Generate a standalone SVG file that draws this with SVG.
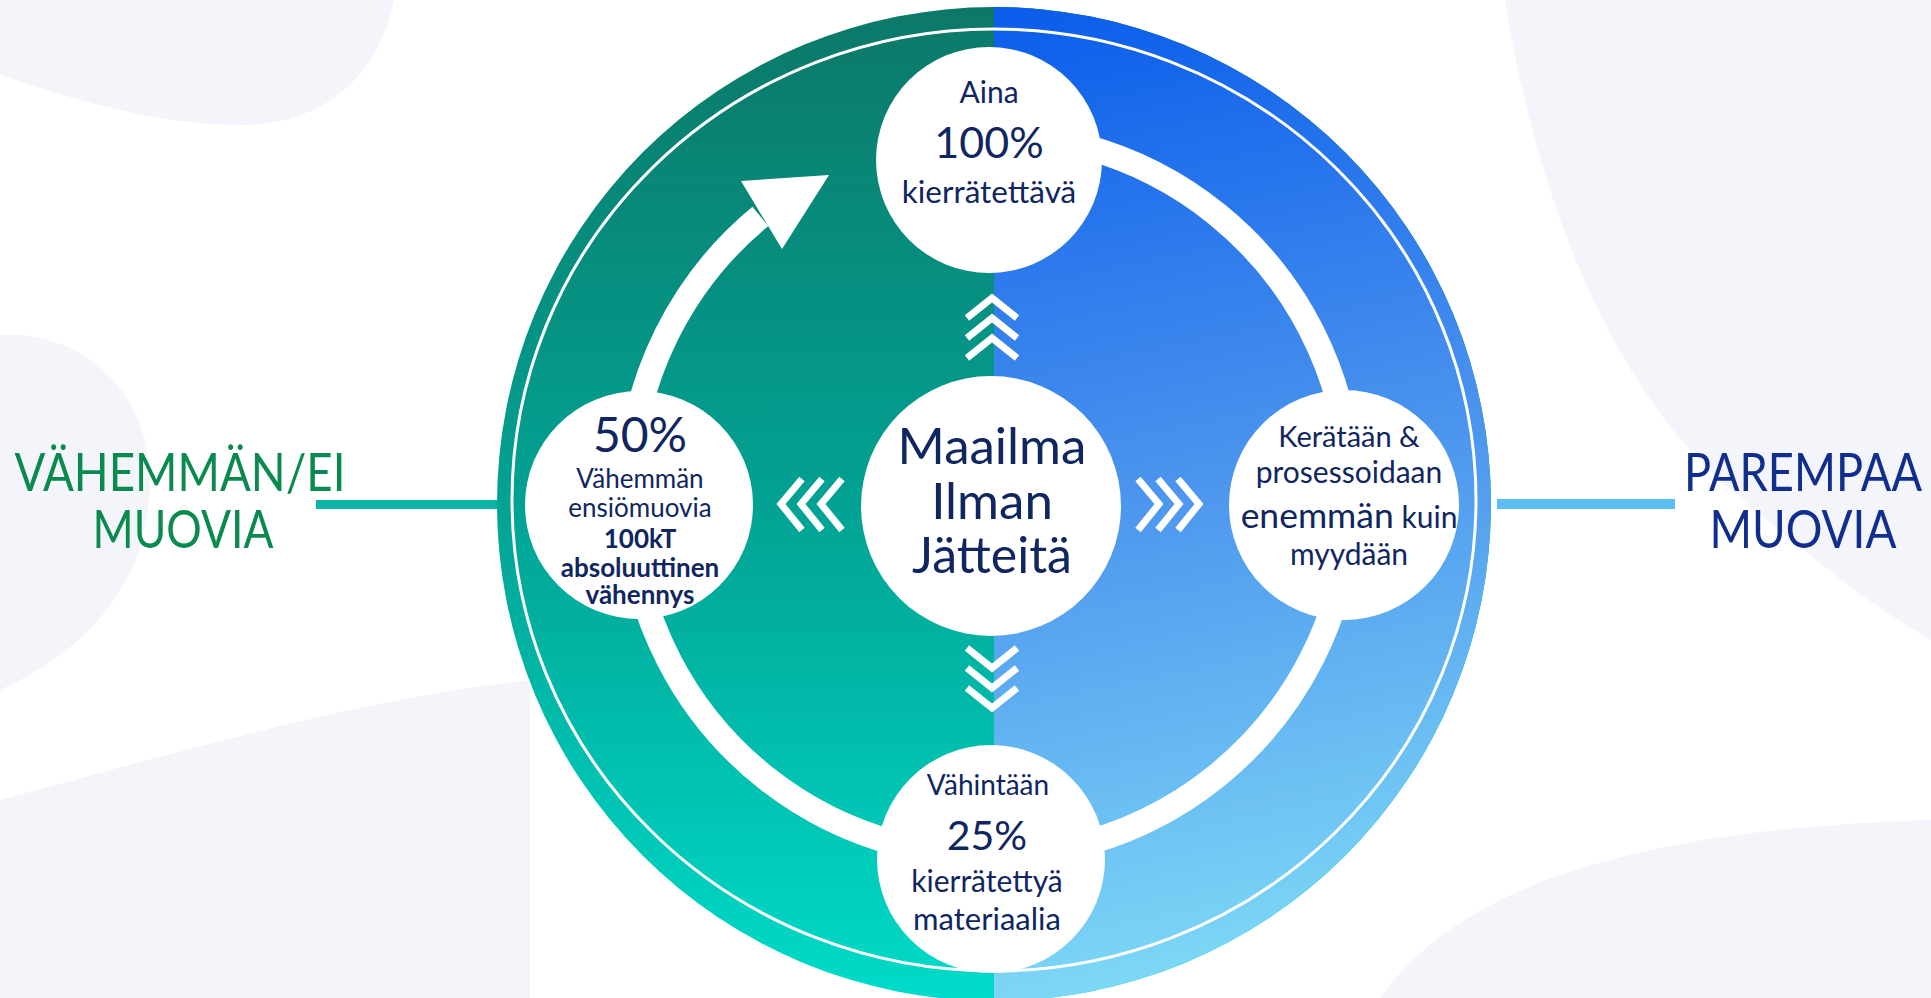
<svg xmlns="http://www.w3.org/2000/svg" width="1931" height="998" viewBox="0 0 1931 998">
<defs>
<linearGradient id="gL" x1="0" y1="8" x2="0" y2="1000" gradientUnits="userSpaceOnUse">
<stop offset="0" stop-color="#0C7868"/>
<stop offset="0.5" stop-color="#02A293"/>
<stop offset="1" stop-color="#00DBC9"/>
</linearGradient>
<linearGradient id="gR" x1="994" y1="8" x2="1200" y2="1000" gradientUnits="userSpaceOnUse">
<stop offset="0" stop-color="#0A5CEB"/>
<stop offset="0.5" stop-color="#4C95EE"/>
<stop offset="1" stop-color="#80DCF6"/>
</linearGradient>
<style>
.bg{fill:#F3F5FA}
.node{fill:#FFFFFF}
.t{font-family:Lato,"Open Sans","Liberation Sans",sans-serif;fill:#0F2660;text-anchor:middle}
.b{font-weight:bold}
.side{font-family:Lato,"Open Sans","Liberation Sans",sans-serif;text-anchor:middle;font-size:53px}
.chev{fill:none;stroke:#FFFFFF;stroke-width:7;stroke-linecap:butt;stroke-linejoin:miter}
</style>
</defs>
<rect width="1931" height="998" fill="#FFFFFF"/>
<g id="background">
<path class="bg" d="M0,0 H394 C380,70 330,125 240,125 C150,125 60,95 0,75 Z"/>
<path class="bg" d="M0,335 C90,330 150,400 150,480 C150,560 110,640 0,690 Z"/>
<path class="bg" d="M0,998 L0,800 C150,760 350,700 530,680 L530,998 Z"/>
<path class="bg" d="M1505,0 H1931 V640 C1860,600 1790,540 1720,480 C1620,390 1540,220 1505,0 Z"/>
<path class="bg" d="M1380,998 C1450,900 1600,830 1931,820 V998 Z"/>
</g>
<g id="disc">
<circle cx="994" cy="504" r="497" fill="url(#gL)"/>
<path d="M994,7 A497,497 0 0 1 994,1001 Z" fill="url(#gR)"/>
<ellipse cx="994" cy="500" rx="482" ry="471" fill="none" stroke="#FFFFFF" stroke-width="3"/>
</g>
<g id="connectors">
<rect x="316" y="500" width="181" height="9" fill="#0BB5A5"/>
<rect x="1497" y="499" width="178" height="10" fill="#5BBFF2"/>
<path d="M760.4,216.4 A361,361 0 1 0 1083.4,146.3" fill="none" stroke="#FFFFFF" stroke-width="25"/>
<polygon points="741,181 829,175 782,249" fill="#FFFFFF"/>
<polyline class="chev" points="967,318 992,298 1017,318"/>
<polyline class="chev" points="967,338 992,318 1017,338"/>
<polyline class="chev" points="967,358 992,338 1017,358"/>
<polyline class="chev" points="967,648 992,668 1017,648"/>
<polyline class="chev" points="967,668 992,688 1017,668"/>
<polyline class="chev" points="967,688 992,708 1017,688"/>
<polyline class="chev" points="802,479 781,504 802,530"/>
<polyline class="chev" points="822,479 801,504 822,530"/>
<polyline class="chev" points="842,479 821,504 842,530"/>
<polyline class="chev" points="1138,479 1159,504 1138,530"/>
<polyline class="chev" points="1158,479 1179,504 1158,530"/>
<polyline class="chev" points="1178,479 1199,504 1178,530"/>
</g>
<g id="node-top">
<circle class="node" cx="989" cy="160" r="113"/>
<text class="t" x="989" y="103" font-size="30">Aina</text>
<text class="t" x="989" y="158" font-size="43">100%</text>
<text class="t" x="989" y="203" font-size="31.5">kierrätettävä</text>
</g>
<g id="node-left">
<circle class="node" cx="639" cy="505" r="114"/>
<text class="t" x="640" y="452" font-size="48">50%</text>
<text class="t" x="640" y="488" font-size="26">Vähemmän</text>
<text class="t" x="640" y="517" font-size="26">ensiömuovia</text>
<text class="t b" x="640" y="548" font-size="26">100kT</text>
<text class="t b" x="640" y="577" font-size="26">absoluuttinen</text>
<text class="t b" x="640" y="604" font-size="26">vähennys</text>
</g>
<g id="node-right">
<circle class="node" cx="1344" cy="505" r="115"/>
<text class="t" x="1349" y="447" font-size="29">Kerätään &amp;</text>
<text class="t" x="1349" y="483" font-size="30">prosessoidaan</text>
<text class="t" x="1349" y="528"><tspan font-size="35.5">enemmän</tspan><tspan font-size="30"> kuin</tspan></text>
<text class="t" x="1349" y="565" font-size="30">myydään</text>
</g>
<g id="node-bottom">
<circle class="node" cx="991" cy="859" r="114"/>
<text class="t" x="988" y="795" font-size="28">Vähintään</text>
<text class="t" x="987" y="850" font-size="41">25%</text>
<text class="t" x="987" y="892" font-size="30">kierrätettyä</text>
<text class="t" x="987" y="930" font-size="31">materiaalia</text>
</g>
<g id="node-center">
<circle class="node" cx="991" cy="506" r="130"/>
<text class="t" x="992" y="464" font-size="51">Maailma</text>
<text class="t" x="992" y="519" font-size="51">Ilman</text>
<text class="t" x="992" y="573" font-size="50">Jätteitä</text>
</g>
<g id="label-left">
<text class="side" x="180" y="491" fill="#0A8A4F" textLength="331" lengthAdjust="spacingAndGlyphs">VÄHEMMÄN/EI</text>
<text class="side" x="183" y="548" fill="#0A8A4F" textLength="181" lengthAdjust="spacingAndGlyphs">MUOVIA</text>
</g>
<g id="label-right">
<text class="side" x="1803" y="491" fill="#112E8E" textLength="238" lengthAdjust="spacingAndGlyphs">PAREMPAA</text>
<text class="side" x="1803" y="548" fill="#112E8E" textLength="187" lengthAdjust="spacingAndGlyphs">MUOVIA</text>
</g>
</svg>
